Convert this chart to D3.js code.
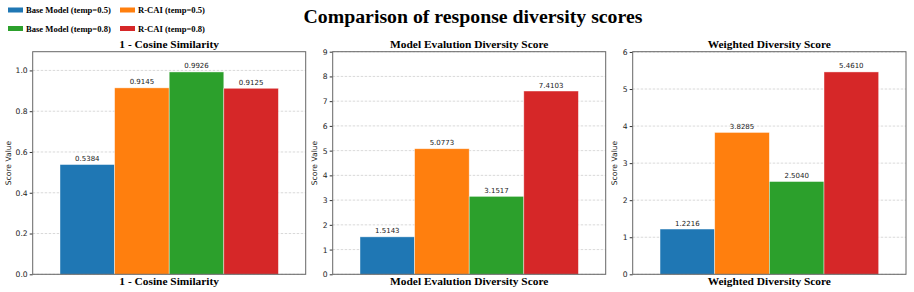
<!DOCTYPE html>
<html>
<head>
<meta charset="utf-8">
<script src="https://cdn.jsdelivr.net/npm/d3@7"></script>
<style>
  body { margin: 0; background: #fff; }
  svg { display: block; }
</style>
</head>
<body>
<svg id="chart" width="914" height="292"></svg>
<script>
const series = ["Base Model (temp=0.5)", "R-CAI (temp=0.5)", "Base Model (temp=0.8)", "R-CAI (temp=0.8)"];
const colors = ["#1f77b4", "#ff7f0e", "#2ca02c", "#d62728"];
const metrics = ["1 - Cosine Similarity", "Model Evalution Diversity Score", "Weighted Diversity Score"];
const cosineValues = [0.5384, 0.9145, 0.9926, 0.9125];
const modelEvalValues = [1.5143, 5.0773, 3.1517, 7.4103];
const weightedValues = [1.2216, 3.8285, 2.5040, 5.4610];
const yMaxes = [1.0919, 9, 6.007];
const yTicks = [
  [0, 0.2, 0.4, 0.6, 0.8, 1.0],
  [0, 1, 2, 3, 4, 5, 6, 7, 8, 9],
  [0, 1, 2, 3, 4, 5, 6]
];
const tickFormats = [d3.format(".1f"), d3.format("d"), d3.format("d")];
const allValues = [cosineValues, modelEvalValues, weightedValues];

const svg = d3.select("#chart");
const serif = "'Liberation Serif', 'Times New Roman', serif";
const sans = "'DejaVu Sans', sans-serif";

// titolo principale
svg.append("text")
  .attr("x", 473).attr("y", 23)
  .attr("text-anchor", "middle")
  .attr("font-family", serif).attr("font-weight", "bold")
  .attr("font-size", 19.8)
  .text("Comparison of response diversity scores");

// legenda
const leg = svg.append("g");
series.forEach((s, i) => {
  const col = i % 2, row = Math.floor(i / 2);
  const gx = 8 + col * 112, gy = 10 + row * 18.5;
  leg.append("rect").attr("x", gx).attr("y", gy - 2.5).attr("width", 15).attr("height", 5).attr("fill", colors[i]);
  leg.append("text").attr("x", gx + 18).attr("y", gy + 3)
    .attr("font-family", serif).attr("font-weight", "bold").attr("font-size", 8.6)
    .text(s);
});

const panels = [
  { left: 32.7, right: 305.7 },
  { left: 332.7, right: 605.7 },
  { left: 632.7, right: 906 }
];
const plotTop = 51.7, plotBottom = 274.3;

panels.forEach((p, k) => {
  const g = svg.append("g");
  const x = d3.scaleLinear().domain([-0.5, 0.5]).range([p.left, p.right]);
  const y = d3.scaleLinear().domain([0, yMaxes[k]]).range([plotBottom, plotTop]);
  const vals = allValues[k];

  // griglia
  g.selectAll(".grid").data(yTicks[k]).join("line")
    .attr("x1", p.left).attr("x2", p.right)
    .attr("y1", d => y(d)).attr("y2", d => y(d))
    .attr("stroke", "#c8c8c8").attr("stroke-width", 0.7)
    .attr("stroke-dasharray", "2.5,1.5");

  const offsets = [-0.3, -0.1, 0.1, 0.3];
  const bw = 0.2;
  g.selectAll(".bar").data(vals).join("rect")
    .attr("x", (d, i) => x(offsets[i] - bw / 2))
    .attr("width", x(bw) - x(0))
    .attr("y", d => y(d))
    .attr("height", d => plotBottom - y(d))
    .attr("fill", (d, i) => colors[i])
    .attr("stroke", "#ffffff").attr("stroke-opacity", 0.6).attr("stroke-width", 0.7);

  g.selectAll(".lab").data(vals).join("text")
    .attr("x", (d, i) => x(offsets[i]))
    .attr("y", d => y(d) - 3.5)
    .attr("text-anchor", "middle")
    .attr("font-family", sans).attr("font-size", 7)
    .attr("fill", "#222")
    .text(d => d.toFixed(4));

  // assi
  const yAxis = d3.axisLeft(y).tickValues(yTicks[k]).tickFormat(tickFormats[k]).tickSize(3).tickPadding(2);
  const ay = g.append("g").attr("transform", `translate(${p.left},0)`).call(yAxis);
  ay.select(".domain").remove();
  ay.selectAll("line").attr("stroke", "#333");
  ay.selectAll("text").attr("font-family", sans).attr("font-size", 7.6).attr("fill", "#222");

  g.append("rect")
    .attr("x", p.left).attr("y", plotTop)
    .attr("width", p.right - p.left).attr("height", plotBottom - plotTop)
    .attr("fill", "none").attr("stroke", "#666").attr("stroke-width", 1);

  const cx = (p.left + p.right) / 2;
  g.append("text").attr("x", cx).attr("y", 48)
    .attr("text-anchor", "middle")
    .attr("font-family", serif).attr("font-weight", "bold").attr("font-size", 11.4)
    .text(metrics[k]);
  g.append("text").attr("x", cx).attr("y", 285)
    .attr("text-anchor", "middle")
    .attr("font-family", serif).attr("font-weight", "bold").attr("font-size", 11.4)
    .text(metrics[k]);

  g.append("text")
    .attr("transform", `translate(${p.left - (k === 0 ? 22 : 16)},${(plotTop + plotBottom) / 2}) rotate(-90)`)
    .attr("text-anchor", "middle")
    .attr("font-family", sans).attr("font-size", 7.6)
    .attr("fill", "#222")
    .text("Score Value");
});
</script>
</body>
</html>
